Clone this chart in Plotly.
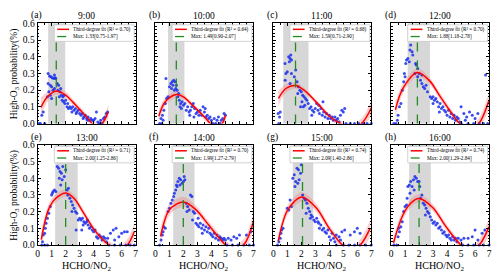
import plotly.graph_objects as go

# ---------------- data ----------------
hours = ["9:00", "10:00", "11:00", "12:00", "13:00", "14:00", "15:00", "16:00"]
letters = ["(a)", "(b)", "(c)", "(d)", "(e)", "(f)", "(g)", "(h)"]
r2_text = ["0.70", "0.64", "0.68", "0.70", "0.71", "0.70", "0.74", "0.74"]
max_text = ["1.33[0.75-1.97]", "1.49[0.90-2.07]", "1.59[0.71-2.90]", "1.88[1.18-2.78]",
            "2.00[1.25-2.86]", "1.99[1.27-2.79]", "2.09[1.40-2.86]", "2.00[1.29-2.84]"]
max_x = [1.33, 1.49, 1.59, 1.88, 2.00, 1.99, 2.09, 2.00]
band_lo = [0.75, 0.90, 0.71, 1.18, 1.25, 1.27, 1.40, 1.29]
band_hi = [1.97, 2.07, 2.52, 2.78, 2.86, 2.79, 2.86, 2.84]

a_pts = [(0.3,0.05),(0.4,0.07),(0.75,0.30),(0.85,0.285),(0.95,0.28),(1.05,0.275),(1.15,0.27),(1.2,0.29),
         (1.25,0.275),(1.3,0.27),(0.75,0.24),(0.9,0.23),(1.0,0.22),(1.1,0.2),(0.8,0.19),(0.9,0.17),(1.2,0.21),
         (1.0,0.15),(0.7,0.16),(1.4,0.24),(1.5,0.23),(1.45,0.2),(1.6,0.19),(1.7,0.17),(1.8,0.16),(1.9,0.17),
         (2.0,0.14),(1.55,0.16),(1.75,0.14),(1.65,0.21),(1.85,0.13),(1.95,0.12),(2.1,0.1),(2.2,0.09),(2.3,0.1),
         (2.4,0.09),(2.5,0.1),(2.6,0.08),(2.7,0.09),(2.8,0.07),(2.9,0.08),(2.15,0.12),(2.45,0.07),(2.75,0.06),
         (3.0,0.06),(3.1,0.05),(3.2,0.06),(3.3,0.04),(3.4,0.05),(3.5,0.03),(3.6,0.04),(3.7,0.02),(3.8,0.03),
         (3.9,0.02),(3.25,0.03),(3.55,0.02),(4.0,0.02),(4.1,0.03),(4.2,0.07),(4.3,0.01),(4.5,0.02),(4.7,0.03),
         (4.8,0.04),(4.9,0.06),(5.0,0.07)]
b_pts = [(0.4,0.03),(0.5,0.05),(0.6,0.08),(0.7,0.12),(0.8,0.15),(0.9,0.16),(0.55,0.02),(0.75,0.27),
         (1.0,0.22),(1.1,0.24),(1.2,0.25),(1.3,0.26),(1.4,0.25),(1.5,0.23),(1.15,0.21),(1.25,0.23),(1.35,0.2),
         (1.45,0.21),(1.6,0.16),(1.7,0.14),(1.8,0.12),(1.9,0.13),(2.0,0.11),(2.1,0.12),(1.65,0.18),(1.75,0.1),
         (1.85,0.09),(2.2,0.08),(1.55,0.2),(2.3,0.1),(2.4,0.07),(2.5,0.08),(2.6,0.1),(2.7,0.12),(2.8,0.09),
         (2.9,0.06),(3.0,0.07),(3.1,0.05),(3.2,0.08),(3.3,0.05),(3.4,0.1),(3.5,0.07),(2.45,0.05),(2.75,0.04),
         (3.6,0.04),(3.7,0.05),(3.8,0.03),(3.9,0.04),(4.0,0.02),(4.2,0.03),(4.4,0.02),(4.5,0.04),(4.7,0.02),
         (4.8,0.03),(4.9,0.06),(5.0,0.05),(3.55,0.09)]
c_pts = [(1.1,0.40),(1.2,0.39),(1.25,0.41),(1.3,0.38),(1.15,0.37),(0.84,0.36),(0.9,0.3),(1.0,0.31),(1.3,0.3),
         (1.6,0.32),(1.5,0.28),(0.85,0.26),(1.7,0.25),(1.2,0.24),(0.35,0.06),(0.5,0.07),(0.45,0.04),
         (1.8,0.22),(1.9,0.2),(2.0,0.19),(2.1,0.17),(2.2,0.16),(2.3,0.15),(2.4,0.14),(1.75,0.18),(2.05,0.13),
         (2.15,0.1),(2.25,0.11),(2.5,0.12),(1.95,0.1),(2.6,0.09),(2.7,0.1),(2.8,0.08),(2.9,0.07),(3.0,0.09),
         (3.1,0.12),(3.2,0.08),(3.3,0.06),(3.4,0.09),(3.5,0.05),(3.6,0.07),(3.7,0.04),(3.8,0.06),(3.9,0.03),
         (2.75,0.05),(3.25,0.11),(3.55,0.13),(4.0,0.05),(4.1,0.03),(4.2,0.04),(4.3,0.02),(4.4,0.04),(4.5,0.02),
         (4.6,0.03),(4.8,0.05),(4.9,0.08),(5.0,0.07),(4.7,0.01),(5.1,0.09)]
d_pts = [(1.4,0.47),(1.5,0.43),(1.55,0.41),(1.35,0.44),(1.1,0.38),(1.2,0.39),(1.05,0.36),(1.3,0.37),
         (1.75,0.36),(1.8,0.35),(1.9,0.33),(0.5,0.05),(0.6,0.1),(0.7,0.12),(0.45,0.02),(0.8,0.2),(0.9,0.25),
         (1.0,0.28),(0.95,0.3),(1.7,0.3),(1.9,0.28),(2.0,0.3),(2.1,0.26),(2.2,0.24),(2.3,0.22),(2.4,0.21),
         (2.5,0.23),(2.6,0.19),(2.2,0.29),(2.8,0.16),(2.9,0.15),(3.0,0.16),(3.1,0.14),(3.2,0.15),(3.3,0.13),
         (3.4,0.1),(3.5,0.12),(3.6,0.09),(3.7,0.1),(3.8,0.08),(3.9,0.07),(3.0,0.12),(3.45,0.07),(4.0,0.05),
         (4.1,0.08),(4.2,0.04),(4.3,0.06),(4.4,0.03),(4.5,0.05),(4.6,0.02),(4.7,0.04),(4.8,0.03),(4.9,0.01),
         (5.2,0.06),(5.4,0.04),(5.6,0.07),(5.8,0.05),(6.0,0.03),(6.2,0.06),(5.0,0.1),(5.3,0.02),(6.75,0.29)]
e_pts = [(1.4,0.47),(1.5,0.46),(1.6,0.44),(1.7,0.43),(1.8,0.47),(1.9,0.41),(1.55,0.4),(1.75,0.39),(2.0,0.45),
         (1.65,0.36),(1.0,0.30),(1.1,0.32),(1.2,0.33),(1.3,0.32),(1.05,0.31),(0.4,0.06),(0.5,0.07),(0.6,0.13),
         (0.7,0.16),(0.8,0.19),(0.9,0.23),(0.35,0.02),(0.55,0.1),(2.1,0.33),(2.2,0.34),(2.3,0.28),(2.4,0.26),
         (2.5,0.24),(2.6,0.22),(2.7,0.2),(2.8,0.19),(2.9,0.15),(2.15,0.3),(2.45,0.2),(2.75,0.09),(3.0,0.16),
         (3.1,0.15),(3.2,0.16),(3.3,0.14),(3.4,0.13),(3.5,0.14),(3.6,0.12),(3.7,0.1),(3.8,0.11),(3.9,0.09),
         (3.25,0.12),(3.55,0.15),(3.15,0.09),(4.0,0.08),(4.1,0.09),(4.2,0.05),(4.3,0.04),(4.4,0.06),(4.5,0.05),
         (4.6,0.03),(4.7,0.05),(4.8,0.04),(4.9,0.02),(5.0,0.04),(5.2,0.07),(5.4,0.09),(5.6,0.1),(5.8,0.05),
         (6.0,0.07),(6.2,0.08),(6.4,0.08),(5.5,0.03)]
f_pts = [(1.5,0.36),(1.6,0.38),(1.7,0.4),(1.8,0.39),(1.9,0.37),(2.0,0.38),(2.1,0.39),(1.45,0.33),(1.55,0.35),
         (1.75,0.36),(2.05,0.41),(2.5,0.3),(2.6,0.29),(1.0,0.22),(1.1,0.25),(1.2,0.27),(1.3,0.29),(1.35,0.31),
         (0.9,0.2),(0.4,0.03),(0.5,0.06),(0.6,0.11),(0.7,0.1),(0.55,0.08),(2.2,0.25),(2.3,0.23),(2.4,0.21),
         (2.7,0.2),(2.8,0.19),(2.9,0.13),(2.25,0.2),(2.65,0.15),(3.0,0.12),(3.1,0.11),(3.2,0.13),(3.3,0.1),
         (3.4,0.12),(3.5,0.09),(3.6,0.11),(3.7,0.08),(3.8,0.1),(3.9,0.07),(3.05,0.16),(3.35,0.07),(4.0,0.06),
         (4.1,0.05),(4.2,0.07),(4.3,0.04),(4.4,0.06),(4.5,0.03),(4.6,0.05),(4.7,0.04),(4.8,0.03),(4.9,0.04),
         (5.0,0.03),(5.2,0.04),(5.4,0.03),(5.6,0.05),(5.8,0.04),(6.0,0.06),(6.5,0.06),(6.8,0.08)]
g_pts = [(1.4,0.4),(1.5,0.42),(1.6,0.38),(1.7,0.46),(1.8,0.45),(1.85,0.39),(1.95,0.43),(2.0,0.48),(1.55,0.35),
         (1.75,0.37),(1.9,0.51),(1.0,0.22),(1.1,0.21),(1.2,0.27),(1.3,0.23),(0.4,0.02),(0.5,0.04),(0.6,0.09),
         (0.7,0.1),(0.55,0.07),(2.1,0.3),(2.2,0.28),(2.3,0.27),(2.4,0.25),(2.5,0.22),(2.6,0.2),(2.7,0.18),
         (2.8,0.17),(2.9,0.15),(2.35,0.19),(2.65,0.16),(3.0,0.14),(3.1,0.16),(3.2,0.14),(3.3,0.1),(3.4,0.12),
         (3.5,0.09),(3.6,0.1),(3.7,0.08),(3.8,0.07),(3.9,0.09),(3.25,0.13),(4.0,0.05),(4.1,0.03),(4.2,0.07),
         (4.3,0.04),(4.4,0.02),(4.5,0.06),(4.7,0.05),(4.8,0.03),(4.9,0.08),(5.1,0.09),(5.5,0.06),(5.8,0.08),
         (6.0,0.1),(6.2,0.07)]
h_pts = [(1.2,0.35),(1.3,0.36),(1.4,0.38),(1.5,0.35),(1.6,0.39),(1.7,0.41),(1.8,0.4),(1.9,0.38),(2.0,0.38),
         (2.05,0.35),(1.35,0.31),(1.65,0.33),(1.0,0.23),(1.1,0.24),(1.15,0.28),(0.9,0.2),(2.1,0.28),(2.2,0.3),
         (0.5,0.05),(0.6,0.08),(0.7,0.11),(0.8,0.14),(0.55,0.1),(2.3,0.25),(2.4,0.24),(2.5,0.22),(2.6,0.2),
         (2.7,0.19),(2.8,0.17),(2.9,0.15),(2.45,0.18),(3.0,0.13),(3.1,0.14),(3.2,0.12),(3.3,0.13),(3.4,0.1),
         (3.5,0.11),(3.6,0.09),(3.7,0.07),(3.8,0.08),(3.9,0.06),(4.0,0.05),(4.1,0.06),(4.2,0.04),(4.3,0.03),
         (4.4,0.05),(4.5,0.03),(4.6,0.04),(4.7,0.02),(4.8,0.04),(5.0,0.03),(5.2,0.04),(5.5,0.04),(5.8,0.05),
         (6.0,0.09),(6.5,0.07),(6.7,0.09),(6.2,0.03)]
scatter_pts = [a_pts, b_pts, c_pts, d_pts, e_pts, f_pts, g_pts, h_pts]

# observations at exactly zero probability
zero_x = [
    [0.1, 0.2, 0.5, 4.4, 4.6],
    [0.3, 0.45, 4.1, 4.3, 4.6],
    [0.4, 5.2, 5.5, 5.8, 6.1, 6.4, 6.7, 7.0],
    [0.2, 0.35, 5.0, 5.5, 5.9, 6.3, 6.6, 6.9],
    [0.3, 0.5, 0.7, 5.1, 5.5, 5.9, 6.3, 6.6, 6.9],
    [0.3, 5.1, 5.5, 5.9, 6.3, 6.7, 7.0],
    [0.3, 4.5, 5.0, 5.4, 5.8, 6.2, 6.6, 7.0],
    [0.2, 0.4, 5.1, 5.5, 5.9, 6.3, 6.6, 7.0],
]

# third-degree fit curves and confidence half-widths
fit_x = [
    [0.24, 0.7, 1.33, 2.0, 2.5, 3.0, 3.5, 3.9, 4.25, 4.6, 5.05],
    [0.24, 0.7, 1.48, 2.0, 2.4, 3.1, 3.6, 3.93, 4.35, 4.76, 5.0],
    [0.37, 0.9, 1.59, 2.2, 3.05, 3.6, 4.0, 4.8, 5.5, 6.3, 7.0],
    [0.31, 0.85, 1.86, 2.74, 3.44, 4.15, 4.9, 5.6, 6.27, 7.0],
    [0.26, 0.79, 1.3, 2.03, 2.6, 3.18, 4.14, 5.1, 5.8, 6.4, 6.9],
    [0.36, 0.95, 1.5, 2.02, 2.85, 3.8, 4.75, 5.0, 5.6, 6.3, 7.0],
    [0.35, 0.94, 1.5, 2.04, 3.05, 4.0, 4.93, 5.6, 6.22, 6.92],
    [0.17, 0.83, 1.4, 1.97, 2.97, 3.92, 4.99, 5.65, 6.3, 7.0],
]
fit_y = [
    [0.097, 0.16, 0.195, 0.17, 0.13, 0.085, 0.04, 0.0, -0.015, 0.0, 0.07],
    [0.044, 0.13, 0.174, 0.16, 0.13, 0.073, 0.03, 0.0, -0.015, 0.0, 0.05],
    [0.15, 0.21, 0.228, 0.2, 0.13, 0.08, 0.044, 0.0, -0.03, 0.0, 0.093],
    [0.083, 0.21, 0.305, 0.257, 0.17, 0.083, 0.0, -0.04, 0.0, 0.14],
    [0.033, 0.215, 0.28, 0.312, 0.28, 0.206, 0.081, 0.0, -0.03, 0.0, 0.08],
    [0.052, 0.206, 0.245, 0.258, 0.215, 0.12, 0.023, 0.0, -0.03, 0.0, 0.14],
    [0.023, 0.196, 0.26, 0.288, 0.225, 0.1, 0.0, -0.035, 0.0, 0.1],
    [0.013, 0.177, 0.25, 0.279, 0.225, 0.11, 0.0, -0.035, 0.0, 0.11],
]
fit_hw = [
    [0.06, 0.03, 0.022, 0.02, 0.018, 0.018, 0.018, 0.02, 0.022, 0.028, 0.04],
    [0.035, 0.025, 0.018, 0.016, 0.015, 0.015, 0.016, 0.018, 0.02, 0.025, 0.035],
    [0.045, 0.025, 0.018, 0.015, 0.015, 0.015, 0.016, 0.02, 0.025, 0.03, 0.045],
    [0.045, 0.03, 0.025, 0.02, 0.02, 0.02, 0.022, 0.026, 0.032, 0.05],
    [0.045, 0.03, 0.025, 0.022, 0.02, 0.02, 0.02, 0.022, 0.028, 0.035, 0.05],
    [0.05, 0.035, 0.03, 0.03, 0.025, 0.022, 0.024, 0.025, 0.03, 0.035, 0.05],
    [0.035, 0.03, 0.028, 0.028, 0.025, 0.022, 0.024, 0.028, 0.035, 0.05],
    [0.035, 0.03, 0.025, 0.025, 0.022, 0.02, 0.022, 0.028, 0.035, 0.05],
]

x_ticks = [0, 1, 2, 3, 4, 5, 6, 7]
y_ticks = [0.0, 0.1, 0.2, 0.3, 0.4, 0.5, 0.6]

# ---------------- figure ----------------
W, H = 500, 278
FONT = "Liberation Serif, Times New Roman, serif"
col_px = [(36, 135), (155, 254), (274, 373), (393, 492)]
row_px = [(19, 123), (145, 249)]
GREEN = "#228b22"

fig = go.Figure()
shapes, annots = [], []

for i in range(8):
    r, c = divmod(i, 4)
    sfx = "" if i == 0 else str(i + 1)
    xa, ya = "x" + sfx, "y" + sfx
    # confidence band
    lo = [y - w for y, w in zip(fit_y[i], fit_hw[i])]
    hi = [y + w for y, w in zip(fit_y[i], fit_hw[i])]
    fig.add_trace(go.Scatter(x=fit_x[i], y=hi, mode="lines", line=dict(width=0, shape="spline"),
                             xaxis=xa, yaxis=ya, showlegend=False, hoverinfo="skip"))
    fig.add_trace(go.Scatter(x=fit_x[i], y=lo, mode="lines", line=dict(width=0, shape="spline"),
                             fill="tonexty", fillcolor="rgba(240,120,120,0.35)",
                             xaxis=xa, yaxis=ya, showlegend=False, hoverinfo="skip"))
    # observations
    px_ = [p[0] for p in scatter_pts[i]] + zero_x[i]
    py_ = [p[1] for p in scatter_pts[i]] + [0.0] * len(zero_x[i])
    fig.add_trace(go.Scatter(x=px_, y=py_, mode="markers",
                             marker=dict(size=3, color="rgba(25,45,235,0.85)", symbol="circle",
                                         line=dict(width=0)),
                             cliponaxis=False, xaxis=xa, yaxis=ya, showlegend=False))
    # fit line
    fig.add_trace(go.Scatter(x=fit_x[i], y=fit_y[i], mode="lines",
                             line=dict(color="red", width=1.5, shape="spline"),
                             xaxis=xa, yaxis=ya, showlegend=False))

    x0, x1 = col_px[c]
    y0, y1 = row_px[r]
    fig.layout["xaxis" + sfx] = dict(
        domain=[x0 / W, x1 / W], anchor=ya, range=[0, 7], tickvals=x_ticks,
        showticklabels=(r == 1), showline=True, linecolor="black", linewidth=1, mirror="ticks",
        ticks="inside", ticklen=3, tickcolor="black", showgrid=False, zeroline=False,
        minor=dict(ticks="inside", ticklen=1.5, dtick=0.5, tick0=0, tickcolor="black"),
        tickfont=dict(size=9.5, family=FONT, color="black"))
    fig.layout["yaxis" + sfx] = dict(
        domain=[1 - y1 / H, 1 - y0 / H], anchor=xa, range=[0, 0.6], tickvals=y_ticks,
        tickformat=".1f", showticklabels=(c == 0), showline=True, linecolor="black", linewidth=1,
        mirror="ticks", ticks="inside", ticklen=3, tickcolor="black", showgrid=False, zeroline=False,
        minor=dict(ticks="inside", ticklen=1.5, dtick=0.02, tick0=0, tickcolor="black"),
        tickfont=dict(size=9.5, family=FONT, color="black"))

    # gray interval band and max line
    shapes.append(dict(type="rect", xref=xa, yref=ya + " domain", x0=band_lo[i], x1=band_hi[i],
                       y0=0, y1=1, fillcolor="rgba(140,140,140,0.35)", line=dict(width=0), layer="below"))
    shapes.append(dict(type="line", xref=xa, yref=ya + " domain", x0=max_x[i], x1=max_x[i],
                       y0=0, y1=1, line=dict(color=GREEN, width=1.3, dash="dash"), layer="above"))
    # legend box
    xd, yd = xa + " domain", ya + " domain"
    shapes.append(dict(type="rect", xref=xd, yref=yd, x0=0.17, x1=0.985, y0=0.82, y1=0.985,
                       fillcolor="white", line=dict(color="#c8c8c8", width=0.8), layer="above"))
    shapes.append(dict(type="line", xref=xd, yref=yd, x0=0.2, x1=0.32, y0=0.94, y1=0.94,
                       line=dict(color="red", width=1.5), layer="above"))
    shapes.append(dict(type="line", xref=xd, yref=yd, x0=0.2, x1=0.32, y0=0.868, y1=0.868,
                       line=dict(color=GREEN, width=1.3, dash="dash"), layer="above"))
    annots.append(dict(xref=xd, yref=yd, x=0.345, y=0.94, xanchor="left", yanchor="middle",
                       text="Third-degree fit (R² = " + r2_text[i] + ")", showarrow=False,
                       font=dict(size=5.2, family=FONT, color="black")))
    annots.append(dict(xref=xd, yref=yd, x=0.345, y=0.868, xanchor="left", yanchor="middle",
                       text="Max: " + max_text[i], showarrow=False,
                       font=dict(size=5.2, family=FONT, color="black")))
    # titles
    annots.append(dict(xref=xd, yref=yd, x=0.5, y=1, xanchor="center", yanchor="bottom",
                       text=hours[i], showarrow=False, font=dict(size=9.5, family=FONT, color="black")))
    annots.append(dict(xref=xd, yref=yd, x=-0.085, y=1, xanchor="left", yanchor="bottom",
                       text=letters[i], showarrow=False, font=dict(size=9.5, family=FONT, color="black")))
    if r == 1:
        annots.append(dict(xref=xd, yref="paper", x=0.5, y=1 - 271 / H, xanchor="center",
                           yanchor="middle", text="HCHO/NO<sub>2</sub>", showarrow=False,
                           font=dict(size=10, family=FONT, color="black")))

for r in range(2):
    y0, y1 = row_px[r]
    annots.append(dict(xref="paper", yref="paper", x=13 / W, y=1 - (y0 + y1) / 2 / H,
                       xanchor="center", yanchor="middle", textangle=-90,
                       text="High-O<sub>3</sub> probability(%)", showarrow=False,
                       font=dict(size=9.5, family=FONT, color="black")))

fig.update_layout(width=W, height=H, margin=dict(l=0, r=0, t=0, b=0),
                  paper_bgcolor="white", plot_bgcolor="white", showlegend=False,
                  shapes=shapes, annotations=annots, font=dict(family=FONT, color="black"))

fig.write_html("out.html")
